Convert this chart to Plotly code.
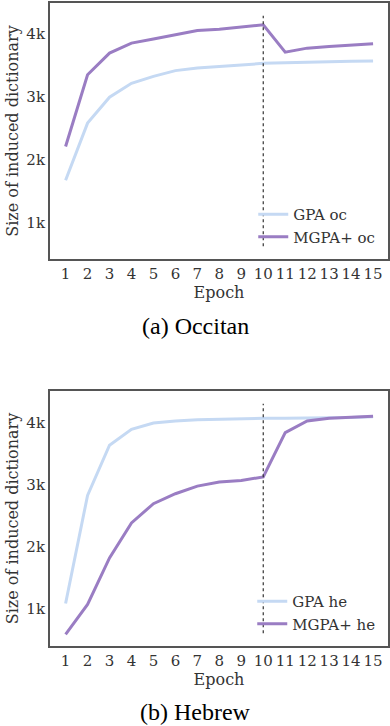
import plotly.graph_objects as go

epochs = list(range(1, 16))

gpa_oc = [1675, 2580, 2990, 3210, 3320, 3410, 3450, 3478, 3502, 3525, 3535, 3545, 3552, 3558, 3562]
mgpa_oc = [2210, 3345, 3688, 3845, 3910, 3976, 4044, 4066, 4098, 4134, 3703, 3766, 3792, 3818, 3834]

gpa_he = [1090, 2828, 3635, 3892, 3994, 4026, 4045, 4056, 4062, 4068, 4070, 4072, 4076, 4082, 4095]
mgpa_he = [593, 1075, 1823, 2386, 2695, 2855, 2978, 3043, 3069, 3125, 3839, 4026, 4069, 4080, 4100]

tick_vals = [1000, 2000, 3000, 4000]
tick_text = ["1k", "2k", "3k", "4k"]

c_gpa = "#c5d9f3"
c_mgpa = "#9a7dc3"
slab = "DejaVu Serif"
W, H = 390, 726

fig = go.Figure()

panels = [
    ("x", "y", gpa_oc, mgpa_oc, "GPA oc", "MGPA+ oc", "legend"),
    ("x2", "y2", gpa_he, mgpa_he, "GPA he", "MGPA+ he", "legend2"),
]
for xa, ya, g, m, gname, mname, leg in panels:
    fig.add_trace(go.Scatter(x=epochs, y=g, mode="lines", name=gname,
                             line=dict(color=c_gpa, width=3), xaxis=xa, yaxis=ya, legend=leg))
    fig.add_trace(go.Scatter(x=epochs, y=m, mode="lines", name=mname,
                             line=dict(color=c_mgpa, width=3), xaxis=xa, yaxis=ya, legend=leg))
    # dotted marker at epoch 10
    fig.add_shape(type="line", x0=10, x1=10, y0=0.05, y1=0.95,
                  xref=xa, yref=ya + " domain",
                  line=dict(color="#333333", width=1.2, dash="dot"))

axis_common = dict(showline=True, mirror=True, linecolor="#555555", linewidth=2,
                   showgrid=False, zeroline=False, ticks="",
                   tickfont=dict(family=slab, size=15, color="#333333"))
title_font = dict(family=slab, size=16, color="#333333")


def py(px):
    # pixel row from top -> paper fraction
    return 1 - px / H


fig.update_layout(
    width=W, height=H,
    margin=dict(l=0, r=0, t=0, b=0),
    plot_bgcolor="white", paper_bgcolor="white",
    xaxis=dict(domain=[50 / W, 388 / W], range=[0.29, 15.68], tickvals=epochs, anchor="y",
               title=dict(text="Epoch", font=title_font, standoff=0), **axis_common),
    yaxis=dict(domain=[py(259), py(3)], range=[430, 4480], tickvals=tick_vals, ticktext=tick_text,
               anchor="x", title=dict(text="Size of induced dictionary", font=title_font, standoff=4),
               **axis_common),
    xaxis2=dict(domain=[50 / W, 388 / W], range=[0.29, 15.68], tickvals=epochs, anchor="y2",
                title=dict(text="Epoch", font=title_font, standoff=2), **axis_common),
    yaxis2=dict(domain=[py(646), py(391)], range=[405, 4508], tickvals=tick_vals, ticktext=tick_text,
                anchor="x2", title=dict(text="Size of induced dictionary", font=title_font, standoff=4),
                **axis_common),
    legend=dict(x=0.975, y=py(253), xanchor="right", yanchor="bottom", bgcolor="rgba(0,0,0,0)",
                font=dict(family=slab, size=15, color="#333333"), tracegroupgap=0),
    legend2=dict(x=0.975, y=py(640), xanchor="right", yanchor="bottom", bgcolor="rgba(0,0,0,0)",
                 font=dict(family=slab, size=15, color="#333333"), tracegroupgap=0),
    showlegend=True,
    annotations=[
        dict(text="(a) Occitan", x=0.5, y=py(325.5), xref="paper", yref="paper", showarrow=False,
             yanchor="middle", font=dict(family="Liberation Serif", size=24, color="black")),
        dict(text="(b) Hebrew", x=0.5, y=py(712), xref="paper", yref="paper", showarrow=False,
             yanchor="middle", font=dict(family="Liberation Serif", size=24, color="black")),
    ],
)

fig.write_html("out.html", config={"displayModeBar": False},
               post_script="document.body.style.margin='0';")
